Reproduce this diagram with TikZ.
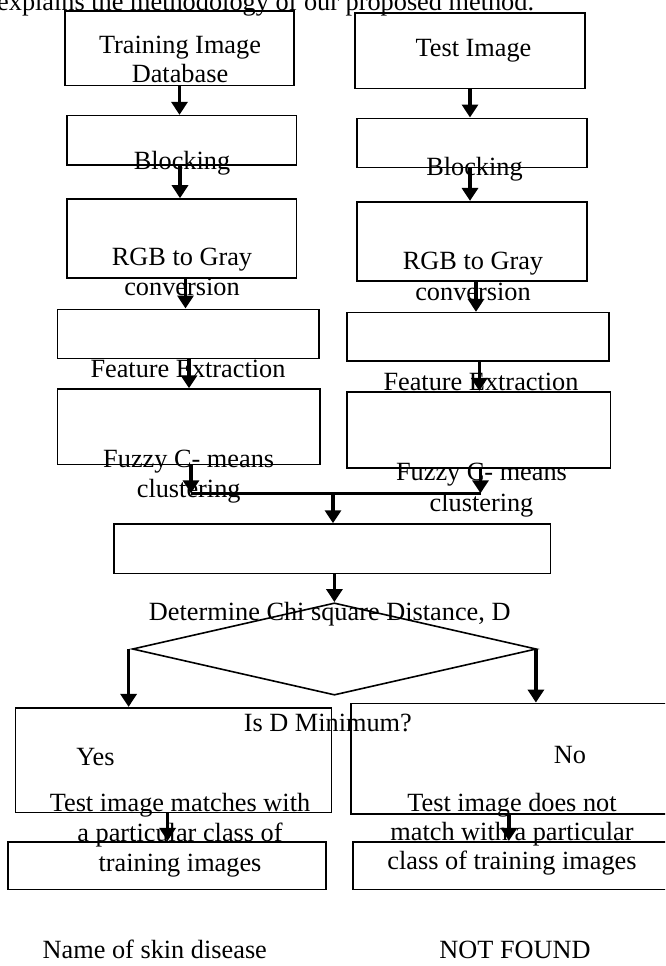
\documentclass[tikz,border=0pt]{standalone}
\usepackage{fontspec}
\setmainfont{Liberation Serif}
\usetikzlibrary{arrows.meta,shapes.geometric}

\begin{document}
\begin{tikzpicture}[
    x=1pt, y=-1pt,
    box/.style={draw, line width=1.6pt, inner sep=0pt},
    flow/.style={line width=3.4pt, -{Triangle[width=16pt,length=13pt]}},
    lbl/.style={anchor=base, inner sep=0pt, align=center, font=\fontsize{26.3}{30}\selectfont}
]
\useasboundingbox (0,0) rectangle (665,966);
\fill[white] (0,0) rectangle (665,966);
\clip (0,0) rectangle (665,966);

% labels, as printed (multi-line ones sit on their last line)
\node[lbl, anchor=base west] (intro) at (-3,11) {explains the methodology of our proposed method.};
\node[lbl, font=\fontsize{26.3}{28.7}\selectfont] (trainTxt) at (180,82.7) {Training Image\\Database};
\node[lbl] (testTxt) at (473.5,56.7) {Test Image};
\node[lbl] (blkTrainTxt) at (182,169) {Blocking};
\node[lbl] (blkTestTxt) at (474.5,175) {Blocking};
\node[lbl] (grayTrainTxt) at (182,295) {RGB to Gray\\conversion};
\node[lbl, font=\fontsize{26.3}{31.4}\selectfont] (grayTestTxt) at (473,300.7) {RGB to Gray\\conversion};
\node[lbl] (featTrainTxt) at (188,377.3) {Feature Extraction};
\node[lbl] (featTestTxt) at (481,390) {Feature Extraction};
\node[lbl] (fcmTrainTxt) at (188.7,497.5) {Fuzzy C- means\\clustering};
\node[lbl, font=\fontsize{26.3}{31.7}\selectfont] (fcmTestTxt) at (481.5,511.7) {Fuzzy C- means\\clustering};
\node[lbl] (chiTxt) at (329.7,620) {Determine Chi square Distance, D};
\node[lbl] (minTxt) at (327.8,731.7) {Is D Minimum?};
\node[lbl] (yesTxt) at (95.4,765) {Yes};
\node[lbl] (noTxt) at (570,763.3) {No};
\node[lbl] (matchTxt) at (180,871.5) {Test image matches with\\a particular class of\\training images};
\node[lbl, font=\fontsize{26.3}{29}\selectfont] (nomatchTxt) at (512,869) {Test image does not\\match with a particular\\class of training images};
\node[lbl] (nameTxt) at (154.8,958) {Name of skin disease};
\node[lbl] (notTxt) at (515,958) {NOT FOUND};

% boxes
\node[box, minimum width=229pt, minimum height=74.7pt] (trainDB) at (179.5,48.3) {};
\node[box, minimum width=230pt, minimum height=75pt] (testImg) at (470,50.8) {};
\node[box, minimum width=229.6pt, minimum height=49.3pt] (blkTrain) at (181.5,140.3) {};
\node[box, minimum width=230pt, minimum height=49pt] (blkTest) at (471.7,142.8) {};
\node[box, minimum width=229.6pt, minimum height=79pt] (grayTrain) at (181.5,238.5) {};
\node[box, minimum width=230pt, minimum height=79pt] (grayTest) at (471.7,241.2) {};
\node[box, minimum width=261.4pt, minimum height=49pt] (featTrain) at (188,333.8) {};
\node[box, minimum width=262pt, minimum height=48.3pt] (featTest) at (478,336.8) {};
\node[box, minimum width=262.7pt, minimum height=75.3pt] (fcmTrain) at (188.7,426.7) {};
\node[box, minimum width=263.7pt, minimum height=76pt] (fcmTest) at (478.8,429.7) {};
\node[box, minimum width=436.8pt, minimum height=49.3pt] (chiBox) at (332.1,548.7) {};
\node[box, diamond, minimum width=404pt, minimum height=92.3pt] (minDiamond) at (334.4,649) {};
\node[box, minimum width=316pt, minimum height=104.6pt] (yesBox) at (173.6,760) {};
\node[box, minimum width=329pt, minimum height=110.7pt] (noBox) at (515.5,758.7) {};
\node[box, minimum width=318pt, minimum height=47.6pt] (nameBox) at (166.7,865.5) {};
\node[box, minimum width=327.2pt, minimum height=47.6pt] (notBox) at (516.4,865.5) {};

% arrows
\draw[flow] (trainDB.south) -- (trainDB.south |- blkTrain.north);
\draw[flow] (testImg.south) -- (testImg.south |- blkTest.north);
\draw[flow] ([xshift=-1.5pt]blkTrain.south) -- ([xshift=-1.5pt]blkTrain.south |- grayTrain.north);
\draw[flow] ([xshift=-1.7pt]blkTest.south) -- ([xshift=-1.7pt]blkTest.south |- grayTest.north);
\draw[flow] ([xshift=4pt]grayTrain.south) -- ([xshift=4pt]grayTrain.south |- featTrain.north);
\draw[flow] ([xshift=4.3pt]grayTest.south) -- ([xshift=4.3pt]grayTest.south |- featTest.north);
\draw[flow] ([xshift=1pt]featTrain.south) -- ([xshift=1pt]featTrain.south |- fcmTrain.north);
\draw[flow] ([xshift=1.3pt]featTest.south) -- ([xshift=1.3pt]featTest.south |- fcmTest.north);

% both branches meet
\coordinate (join) at (333,493.3);
\draw[flow] ([xshift=2.3pt]fcmTrain.south) -- ([xshift=2.3pt]fcmTrain.south |- join);
\draw[flow] ([xshift=1.7pt]fcmTest.south) -- ([xshift=1.7pt]fcmTest.south |- join);
\draw[line width=3pt] ([xshift=2.3pt]fcmTrain.south |- join) -- ([xshift=1.7pt]fcmTest.south |- join);
\draw[flow] (join) -- (join |- chiBox.north);
\draw[flow] (chiBox.south -| minDiamond.north) -- (minDiamond.north);

\draw[flow] ([xshift=-3pt]minDiamond.west) -- ([xshift=-3pt]minDiamond.west |- yesBox.north);
\draw[flow] ([xshift=-1.3pt]minDiamond.east) -- ([xshift=-1.3pt]minDiamond.east |- noBox.north);
\draw[flow] ([xshift=-6pt]yesBox.south) -- ([xshift=-6pt]yesBox.south |- nameBox.north);
\draw[flow] ([xshift=-6.6pt]noBox.south) -- ([xshift=-6.6pt]noBox.south |- notBox.north);
\end{tikzpicture}
\end{document}
